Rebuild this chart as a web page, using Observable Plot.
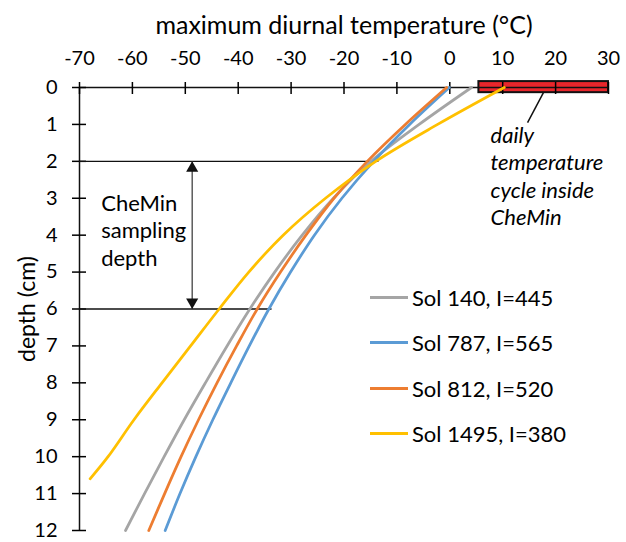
<!DOCTYPE html>
<html>
<head>
<meta charset="utf-8">
<script src="https://cdn.jsdelivr.net/npm/d3@7"></script>
<script src="https://cdn.jsdelivr.net/npm/@observablehq/plot@0.6"></script>
<style>
  html, body { margin: 0; padding: 0; background: white; }
  #wrap { position: relative; width: 626px; height: 542px; font-family: Lato, sans-serif; }
  #legend { position: absolute; left: 370px; top: 275px; }
  .item { display: flex; align-items: center; height: 45.3px; font-size: 22px; color: #000; }
  .swatch { width: 38px; height: 3px; margin-right: 4px; }
</style>
</head>
<body>
<div id="wrap"></div>
<script>
// ---- data ----
const seriesNames = ["Sol 140, I=445", "Sol 787, I=565", "Sol 812, I=520", "Sol 1495, I=380"];
const seriesColors = ["#a5a5a5", "#5b9bd5", "#ed7d31", "#ffc000"];
const depths = [0, 1, 2, 3, 4, 5, 6, 7, 8, 9, 10, 11, 12];
const sol140 = [4.1, -5.8, -14.9, -22.0, -27.9, -33.1, -37.8, -42.1, -46.2, -50.2, -54.0, -57.7, -61.3];
const sol787 = [-0.1, -7.6, -14.4, -20.4, -25.6, -30.1, -34.2, -37.9, -41.4, -44.8, -48.0, -51.0, -53.8];
const sol812 = [-0.6, -8.4, -15.6, -21.9, -27.2, -32.0, -36.4, -40.3, -44.0, -47.5, -50.8, -53.9, -56.9];
const depthsSol1495 = [0, 1, 2, 3, 4, 5, 6, 7, 8, 9, 10, 10.6];
const sol1495 = [10.3, -2.3, -14.0, -23.5, -31.5, -38.0, -43.6, -49.0, -54.4, -59.7, -64.6, -68.0];
const xTicks = [-70, -60, -50, -40, -30, -20, -10, 0, 10, 20, 30];
const yTicks = [0, 1, 2, 3, 4, 5, 6, 7, 8, 9, 10, 11, 12];
// daily temperature cycle inside CheMin (range, °C)
const cycleRange = [{x1: 5.5, x2: 30}];
// CheMin sampling depth (cm)
const samplingDepths = [{depth: 2, xEnd: -13.4}, {depth: 6, xEnd: -33.6}];
const samplingArrowX = -48.7;
const noteSampling = [{x: -65.9, y: 3.85, text: "CheMin\nsampling\ndepth"}];
const noteCycle = [{x: 7.7, y: 2.38, text: "daily\ntemperature\ncycle inside\nCheMin"}];
const leader = [{x1: 17.7, y1: 0.14, x2: 14.7, y2: 0.95}];

// ---- build ----
const lines = [];
[sol140, sol787, sol812].forEach((arr, i) => arr.forEach((t, j) => lines.push({series: seriesNames[i], depth: depths[j], temp: t})));
sol1495.forEach((t, j) => lines.push({series: seriesNames[3], depth: depthsSol1495[j], temp: t}));

const chart = Plot.plot({
  width: 626,
  height: 542,
  marginTop: 87,
  marginBottom: 12,
  marginLeft: 79,
  marginRight: 18,
  style: {fontFamily: "Lato, sans-serif", fontSize: "19px", color: "#000", background: "white"},
  x: {domain: [-70, 30]},
  y: {domain: [0, 12], reverse: true},
  color: {domain: seriesNames, range: seriesColors},
  marks: [
    Plot.rect(cycleRange, {x1: "x1", x2: "x2", y1: -0.16, y2: 0.14, fill: "#e8262b", stroke: "#111", strokeWidth: 2}),
    Plot.ruleY([0], {x1: -70, x2: 30, stroke: "#111", strokeWidth: 1.3}),
    Plot.ruleX([-70], {y1: 0, y2: 12, stroke: "#111", strokeWidth: 1.5}),
    Plot.axisX(xTicks, {anchor: "top", tickSize: 12, dy: 6, tickPadding: 17, label: null, strokeWidth: 1.5, fontSize: 20, tickFormat: d => String(d)}),
    Plot.axisY(yTicks, {anchor: "left", tickSize: 14, dx: 7, tickPadding: 15, label: null, strokeWidth: 1.5, fontSize: 20, tickFormat: d => String(d)}),
    Plot.text(["maximum diurnal temperature (°C)"], {frameAnchor: "top", lineAnchor: "middle", dy: -62, fontSize: 25}),
    Plot.text(["depth (cm)"], {frameAnchor: "left", textAnchor: "middle", lineAnchor: "middle", dx: -52, rotate: -90, fontSize: 23}),
    Plot.ruleY(samplingDepths, {y: "depth", x1: -70, x2: "xEnd", stroke: "#111", strokeWidth: 1.3}),
    Plot.link([{y1: 2, y2: 6}], {x1: samplingArrowX, x2: samplingArrowX, y1: "y1", y2: "y2", stroke: "#333", strokeWidth: 1.2}),
    Plot.dot([2], {x: samplingArrowX, y: d => d, dy: 7, symbol: "triangle", r: 4.5, fill: "#111", stroke: "none"}),
    Plot.dot([6], {x: samplingArrowX, y: d => d, dy: -7, symbol: "triangle", rotate: 180, r: 4.5, fill: "#111", stroke: "none"}),
    Plot.text(noteSampling, {x: "x", y: "y", text: "text", textAnchor: "start", lineAnchor: "middle", lineHeight: 1.25, fontSize: 22}),
    Plot.text(noteCycle, {x: "x", y: "y", text: "text", textAnchor: "start", lineAnchor: "middle", lineHeight: 1.24, fontSize: 22, fontStyle: "italic"}),
    Plot.link(leader, {x1: "x1", y1: "y1", x2: "x2", y2: "y2", stroke: "#111", strokeWidth: 1.5}),
    Plot.line(lines, {x: "temp", y: "depth", z: "series", stroke: "series", strokeWidth: 2.75, curve: "catmull-rom"})
  ]
});
const wrap = document.getElementById("wrap");
wrap.appendChild(chart);

const legend = document.createElement("div");
legend.id = "legend";
seriesNames.forEach((name, i) => {
  const item = document.createElement("div");
  item.className = "item";
  const sw = document.createElement("div");
  sw.className = "swatch";
  sw.style.background = seriesColors[i];
  const lab = document.createElement("span");
  lab.textContent = name;
  item.appendChild(sw);
  item.appendChild(lab);
  legend.appendChild(item);
});
wrap.appendChild(legend);
</script>
</body>
</html>
